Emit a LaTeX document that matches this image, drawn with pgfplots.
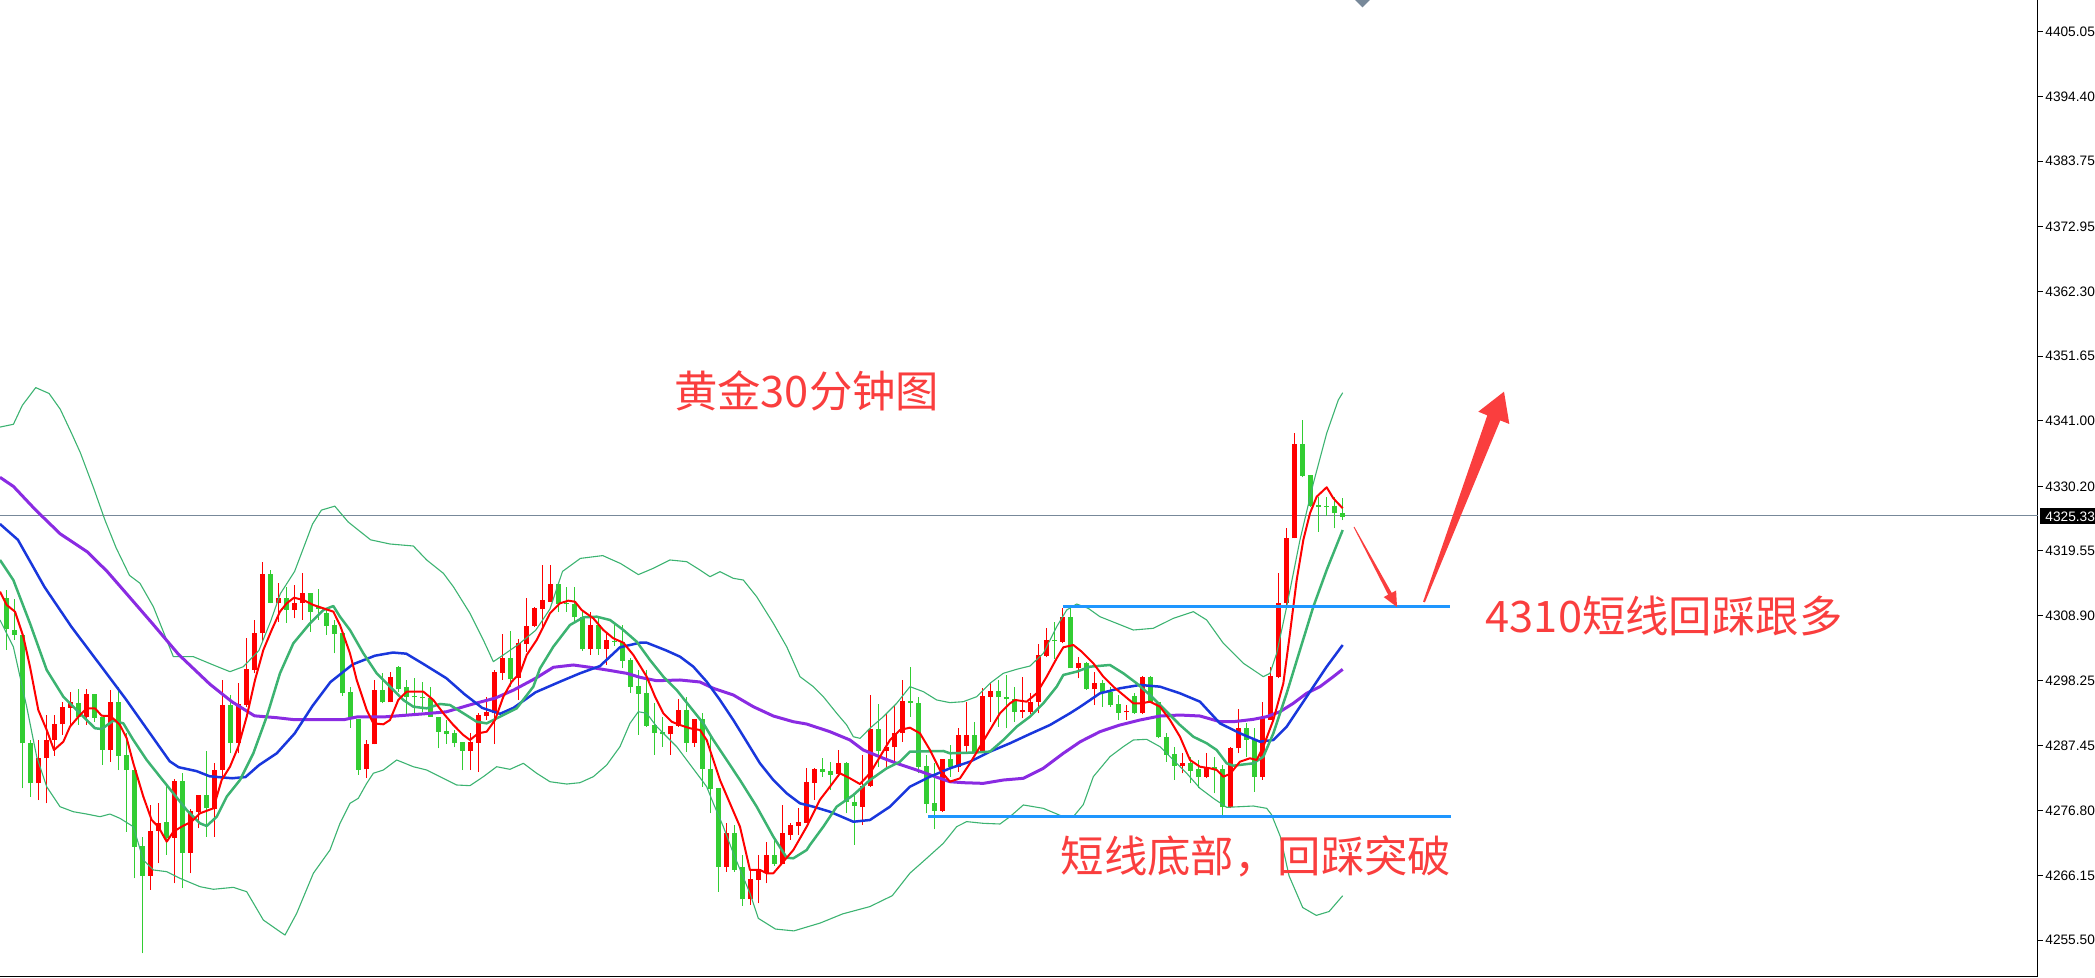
\documentclass[border=0pt]{standalone}
\usepackage{pgfplots}
\pgfplotsset{compat=1.18}
\usepackage{pgfplotstable}
\usepackage{fontspec}
\setmainfont{DejaVu Sans}
\newfontfamily\cjk{Noto Sans CJK SC}
\newfontfamily\tickfont{Liberation Sans}
\definecolor{cRed}{RGB}{255,0,0}
\definecolor{cGreen}{RGB}{50,205,50}
\definecolor{maSea}{RGB}{60,179,113}
\definecolor{maBlue}{RGB}{25,55,220}
\definecolor{maPurple}{RGB}{138,43,226}
\definecolor{lineBlue}{RGB}{30,150,255}
\definecolor{annRed}{RGB}{250,62,62}
\definecolor{slate}{RGB}{119,136,153}
\newcommand\ticklab{\tickfont\fontsize{6.85pt}{8pt}\selectfont}

\pgfplotstableread{
x o h l c
4 4281.30 4288.43 4278.55 4285.41
5 4285.41 4292.55 4278.00 4288.43
6 4288.43 4292.55 4285.80 4291.07
7 4291.01 4294.74 4289.26 4293.92
8 4293.76 4296.39 4290.63 4294.63
10 4292.27 4296.77 4290.90 4296.01
13 4286.79 4296.66 4284.86 4294.63
18 4266.04 4277.73 4263.74 4273.45
19 4273.45 4278.00 4268.13 4274.71
21 4272.35 4281.96 4264.83 4281.74
23 4269.88 4277.02 4266.48 4276.74
24 4276.63 4279.38 4273.89 4279.38
26 4277.02 4284.59 4272.52 4283.49
27 4283.49 4298.31 4281.85 4294.19
29 4287.99 4297.76 4286.24 4294.36
30 4294.19 4305.17 4293.92 4300.07
31 4299.96 4308.19 4299.41 4305.99
32 4305.99 4317.79 4304.62 4315.76
34 4310.93 4314.23 4307.91 4311.76
36 4309.84 4313.95 4308.46 4310.93
37 4310.93 4315.87 4308.19 4312.69
45 4283.60 4288.43 4282.23 4287.77
46 4287.72 4298.31 4287.72 4296.66
48 4294.63 4299.68 4294.63 4298.86
58 4286.68 4289.64 4283.49 4288.16
59 4287.99 4292.93 4283.22 4292.55
60 4292.44 4295.57 4291.72 4293.10
61 4292.82 4299.96 4287.77 4299.68
62 4299.52 4305.83 4298.31 4301.88
64 4298.58 4305.01 4295.02 4304.35
65 4304.24 4311.76 4302.98 4307.20
66 4307.20 4310.38 4307.09 4310.11
67 4309.94 4317.24 4307.10 4311.48
68 4311.21 4317.25 4311.21 4314.12
73 4303.36 4309.56 4302.43 4307.37
75 4303.36 4306.11 4300.78 4304.90
83 4289.37 4290.79 4285.97 4290.79
84 4290.74 4295.13 4290.63 4293.37
86 4288.00 4291.95 4287.34 4291.95
90 4267.58 4274.71 4266.76 4273.18
93 4262.20 4267.03 4261.27 4265.55
94 4265.38 4269.50 4261.54 4267.14
95 4266.48 4271.69 4264.83 4269.50
97 4268.02 4277.73 4268.02 4273.18
98 4272.79 4274.71 4271.97 4274.44
99 4274.33 4277.18 4272.79 4274.99
100 4274.82 4283.77 4274.82 4281.57
101 4281.41 4283.77 4278.56 4283.60
104 4282.84 4286.79 4282.40 4284.59
107 4277.46 4285.97 4274.44 4280.86
108 4280.86 4295.84 4280.75 4290.19
110 4286.68 4292.83 4283.77 4287.23
111 4287.23 4294.03 4284.59 4289.53
112 4289.53 4298.31 4288.16 4294.86
117 4276.80 4285.25 4276.64 4285.25
119 4284.04 4290.36 4283.22 4289.26
120 4287.45 4294.75 4286.13 4289.26
122 4286.24 4296.94 4286.24 4295.68
123 4295.57 4297.87 4291.45 4296.50
127 4293.10 4298.86 4292.00 4293.30
128 4293.10 4296.12 4292.72 4294.75
129 4294.75 4304.24 4292.83 4302.43
130 4302.26 4306.82 4302.05 4304.90
132 4304.62 4310.11 4304.35 4308.74
134 4300.23 4302.15 4298.59 4301.06
136 4296.77 4299.68 4294.19 4297.76
140 4292.99 4294.19 4291.73 4293.21
142 4292.82 4298.97 4292.71 4298.86
147 4284.21 4286.24 4282.94 4284.70
150 4282.40 4286.35 4282.12 4283.93
153 4277.35 4287.33 4277.18 4287.06
154 4287.06 4293.48 4286.24 4290.35
157 4282.40 4294.74 4281.85 4292.27
158 4291.73 4300.51 4291.73 4298.97
159 4298.86 4315.87 4298.59 4310.93
160 4310.93 4323.39 4310.66 4321.63
161 4321.63 4338.92 4321.63 4337.17
}\redc

\pgfplotstableread{
x o h l c
0 4311.76 4313.13 4303.25 4306.65
1 4306.54 4311.59 4304.90 4305.72
2 4305.72 4305.72 4280.47 4287.88
3 4287.88 4288.43 4279.10 4281.30
9 4294.47 4296.77 4290.90 4292.27
11 4296.01 4296.01 4291.45 4292.11
12 4292.27 4292.27 4284.32 4286.79
14 4294.63 4297.21 4283.49 4285.80
15 4285.96 4289.53 4273.34 4283.49
16 4283.49 4283.49 4265.66 4270.87
17 4270.98 4272.52 4253.31 4266.04
20 4274.88 4281.13 4269.50 4272.35
22 4281.74 4282.94 4264.01 4269.88
25 4279.38 4286.68 4272.52 4277.18
28 4294.19 4295.84 4286.24 4287.99
33 4315.76 4316.42 4310.93 4311.04
35 4311.76 4313.68 4307.75 4309.84
38 4312.69 4312.69 4306.27 4309.56
39 4310.38 4313.24 4308.19 4310.00
40 4309.40 4310.11 4305.72 4307.20
41 4307.37 4308.19 4302.70 4305.88
42 4305.99 4305.99 4295.68 4296.12
43 4296.39 4297.21 4290.46 4292.27
44 4291.83 4291.83 4282.67 4283.49
47 4296.66 4299.52 4294.47 4294.63
49 4300.51 4300.62 4296.39 4296.77
50 4297.21 4298.31 4292.71 4295.57
51 4295.73 4298.58 4292.82 4295.46
52 4295.57 4298.04 4293.10 4295.29
53 4295.29 4297.21 4292.27 4292.27
54 4292.27 4292.27 4287.06 4289.80
55 4289.91 4291.72 4287.77 4289.36
56 4289.53 4290.08 4287.22 4287.99
57 4288.16 4288.16 4283.49 4286.68
63 4301.88 4306.43 4297.21 4298.42
69 4314.12 4314.34 4309.56 4310.83
70 4310.94 4313.68 4309.56 4310.74
71 4310.83 4313.57 4307.92 4308.63
72 4308.63 4309.84 4303.14 4303.36
74 4307.37 4308.74 4302.43 4303.36
76 4304.79 4307.64 4303.91 4304.57
77 4304.62 4307.37 4300.23 4301.50
78 4301.61 4301.88 4296.23 4297.22
79 4297.33 4299.96 4289.26 4296.01
80 4296.12 4299.96 4290.63 4290.79
81 4290.90 4294.47 4285.97 4289.64
82 4289.75 4292.28 4287.34 4289.37
85 4293.37 4295.57 4286.51 4288.00
87 4291.84 4292.83 4280.75 4283.72
88 4283.72 4288.98 4276.36 4280.42
89 4280.53 4280.53 4263.46 4267.58
91 4273.07 4274.44 4266.76 4267.03
92 4267.47 4269.50 4261.16 4262.20
96 4269.50 4271.97 4267.69 4268.02
102 4283.60 4285.42 4282.40 4283.22
103 4283.39 4284.87 4280.20 4282.67
105 4284.59 4284.87 4276.36 4278.28
106 4278.28 4279.38 4271.15 4277.57
109 4290.19 4294.36 4284.04 4286.68
113 4294.80 4300.40 4292.28 4294.58
114 4294.58 4295.57 4282.95 4284.04
115 4284.15 4285.97 4276.36 4277.90
116 4278.01 4284.59 4273.73 4276.80
118 4285.25 4287.61 4282.40 4284.04
121 4289.26 4291.45 4286.24 4286.24
124 4296.50 4298.31 4290.63 4295.46
125 4295.46 4299.14 4290.36 4295.13
126 4295.13 4297.22 4291.45 4293.10
131 4304.90 4307.92 4301.72 4304.68
133 4308.74 4310.39 4300.23 4300.23
135 4301.06 4301.33 4296.67 4296.78
137 4297.76 4298.31 4293.92 4296.12
138 4296.39 4297.21 4293.92 4294.19
139 4294.36 4295.84 4291.73 4292.93
141 4295.68 4296.12 4292.71 4292.82
143 4298.86 4298.97 4294.47 4294.74
144 4294.74 4294.74 4288.71 4288.87
145 4288.87 4289.53 4284.86 4285.96
146 4286.13 4287.33 4281.85 4284.21
148 4284.70 4285.69 4281.30 4283.38
149 4283.60 4285.14 4280.47 4282.40
151 4283.93 4285.69 4279.65 4283.71
152 4283.60 4284.32 4275.54 4277.35
155 4290.35 4291.29 4285.69 4288.43
156 4288.43 4290.35 4279.93 4282.40
162 4337.17 4341.12 4331.68 4331.90
163 4332.06 4332.06 4326.85 4326.96
164 4327.07 4328.49 4322.73 4326.85
165 4327.01 4328.49 4325.31 4326.80
166 4326.96 4328.39 4323.28 4325.75
167 4325.75 4328.22 4324.65 4325.20
}\greenc

\pgfplotsset{
  wick/.style={draw=none, forget plot, error bars/.cd, y dir=plus, y explicit, error mark=none, error bar style={line width=0.5pt, draw=#1}},
  body/.style={draw=none, forget plot, error bars/.cd, y dir=plus, y explicit, error mark=none, error bar style={line width=2.4pt, draw=#1}},
}

\begin{document}
\begin{tikzpicture}
\useasboundingbox (0,0) rectangle (1047.5pt,489pt);
\begin{axis}[
  at={(0pt,0.5pt)}, anchor=south west,
  scale only axis, width=1019pt, height=488.5pt,
  xmin=-0.8375, xmax=253.9125, ymin=4249.41, ymax=4410.27,
  axis x line*=bottom, axis y line*=right,
  axis line style={-, line width=0.5pt, black},
  xtick=\empty,
  ytick={4255.50,4266.15,4276.80,4287.45,4298.25,4308.90,4319.55,4330.20,4341.00,4351.65,4362.30,4372.95,4383.75,4394.40,4405.05},
  yticklabels={4255.50,4266.15,4276.80,4287.45,4298.25,4308.90,4319.55,4330.20,4341.00,4351.65,4362.30,4372.95,4383.75,4394.40,4405.05},
  tick align=outside, major tick length=2.5pt,
  tick style={line width=0.5pt, black},
  yticklabel style={font=\ticklab, anchor=west, inner sep=0pt, xshift=1pt},
  line join=round,
]
% current price line
\addplot[slate, line width=0.5pt, forget plot] coordinates {(-1,4325.33) (260,4325.33)};

% candles
\addplot[wick=cRed] table[x=x, y=l, y error expr=\thisrow{h}-\thisrow{l}] {\redc};
\addplot[wick=cGreen] table[x=x, y=l, y error expr=\thisrow{h}-\thisrow{l}] {\greenc};
\addplot[body=cRed] table[x=x, y=o, y error expr=\thisrow{c}-\thisrow{o}] {\redc};
\addplot[body=cGreen] table[x=x, y=c, y error expr=\thisrow{o}-\thisrow{c}] {\greenc};

% Bollinger upper
\addplot[maSea, line width=0.55pt] coordinates {
(-0.84,4339.95)(0.84,4340.41)(1.95,4343.52)(3.63,4346.45)(5.3,4345.48)(6.7,4342.88)(8.09,4338.98)(9.21,4335.72)(10.88,4329.86)(12.28,4324.65)(13.67,4320.09)(15.35,4315.53)(16.66,4314.23)(18.33,4310.38)(20.83,4302.15)(23.33,4302.15)(25.83,4300.78)(27.91,4299.68)(29.58,4300.50)(31.53,4303.17)(33,4308)(34.2,4312.5)(35.99,4316.19)(38.23,4323.99)(39.34,4326.28)(41.01,4326.93)(42.69,4324.32)(45.48,4321.39)(47.91,4320.70)(50.83,4320.37)(52.5,4318.07)(54.58,4315.88)(55.83,4313.68)(57.91,4309.29)(59.58,4304.90)(60.83,4301.33)(62.08,4302.43)(64,4304.2)(66.13,4306.5)(67.91,4310)(69.48,4316.19)(71.71,4318.33)(74.5,4318.79)(76.73,4317.49)(78.96,4315.66)(80.83,4316.70)(82.9,4318.07)(85,4317.79)(86.66,4316.42)(87.91,4315.32)(89.16,4316.14)(90.83,4315.05)(92.08,4314.77)(93.75,4312.02)(95.83,4307.64)(97.5,4303.79)(99.16,4298.86)(100.83,4297.21)(102.08,4295.56)(103.75,4292.83)(105,4290.90)(105.83,4288.97)(106.66,4288.70)(107.91,4290.36)(109.58,4292.27)(111.25,4294.47)(112.91,4297.21)(114.58,4296.39)(116.25,4295.02)(117.91,4294.58)(119.58,4294.74)(121.25,4295.56)(122.91,4297.76)(124.58,4299.41)(126.25,4300.07)(127.91,4300.61)(129.58,4302.70)(131.25,4307.09)(132.5,4309.83)(133.75,4310.82)(135.2,4310.1)(136.66,4308.73)(140.83,4306.54)(143.33,4306.82)(145.83,4308.46)(148.33,4309.56)(150,4308.19)(152.08,4304.35)(154.58,4301.06)(157.08,4298.86)(157.91,4299.41)(158.75,4302.70)(160,4310.38)(161.66,4321.36)(163.33,4330.69)(165,4338.93)(166.45,4344.41)(167,4345.6)};
% Bollinger lower
\addplot[maSea, line width=0.55pt] coordinates {
(-0.84,4308.19)(0.83,4303.79)(2.5,4293.91)(3.75,4285.68)(5.0,4280.74)(6.66,4277.45)(8.33,4276.62)(10,4276.24)(11.66,4275.80)(12.91,4276.24)(14.16,4275.53)(15.83,4274.16)(17.08,4268.67)(18.33,4267.03)(20,4266.75)(21.66,4265.66)(24.16,4264.28)(25.83,4263.85)(28.33,4264.17)(30,4263.45)(32.08,4258.79)(34.16,4256.87)(34.79,4256.32)(36.25,4259.89)(38.33,4266.48)(40.41,4270.32)(41.66,4274.71)(42.91,4278.00)(43.95,4278.83)(45,4281.29)(45.83,4282.95)(47.08,4283.49)(48.75,4285.14)(50.83,4284.03)(52.5,4283.49)(54.58,4282.12)(56.25,4281.02)(57.91,4280.91)(59.58,4282.39)(61.25,4284.03)(62.91,4283.60)(64.58,4284.59)(66.25,4282.95)(67.91,4281.56)(70,4281.18)(71.66,4281.40)(73.33,4282.39)(75,4284.31)(76.66,4287.33)(77.91,4291.17)(78.95,4293.09)(80,4292.83)(81.25,4290.63)(82.5,4288.97)(83.75,4287.33)(85,4285.14)(86.25,4282.95)(87.5,4280.74)(88.33,4278.00)(89.58,4274.16)(90.83,4269.77)(92.91,4263.19)(93.95,4259.07)(96.1,4257.3)(98.4,4257.0)(101.7,4258.3)(104.5,4259.8)(107.9,4261.0)(110.7,4262.8)(112.9,4266.5)(115,4268.95)(117.08,4271.42)(118.75,4274.16)(120,4274.99)(122.08,4274.71)(124.16,4274.60)(125.41,4275.80)(127.08,4277.73)(129.58,4277.18)(132.08,4275.80)(133.33,4275.80)(134.58,4277.8)(135.83,4282.39)(137.91,4285.68)(139.58,4287.33)(140.83,4288.43)(142.5,4288.54)(144.16,4287.33)(145.83,4285.14)(147.5,4282.95)(149.16,4280.48)(150.83,4278.83)(152.5,4277.34)(155.83,4277.56)(157.5,4277.18)(158.1,4276.15)(159.2,4272.56)(160.3,4266.05)(162,4260.85)(163.7,4259.55)(165.3,4260.19)(167,4262.79)};

% purple MA
\addplot[maPurple, line width=1.5pt] coordinates {
(-0.84,4331.68)(0.84,4330.18)(3.63,4326.28)(6.7,4322.36)(10.05,4319.43)(12.55,4316.19)(15.35,4311.96)(18.14,4307.72)(21.49,4302.51)(25.39,4297.63)(28.18,4294.70)(30.97,4292.41)(33.76,4292.10)(35.99,4291.77)(42.13,4291.77)(43.8,4292.23)(47.15,4292.23)(52.17,4292.74)(54.96,4293.07)(58.31,4294.37)(61.1,4295.34)(63.34,4296.64)(66.13,4298.60)(68.33,4300.40)(70.83,4300.78)(72.91,4300.40)(75,4299.96)(77.5,4299.41)(79.16,4298.75)(81.25,4298.19)(84.16,4298.31)(86.66,4297.98)(88.33,4296.94)(90.83,4295.84)(93.33,4293.91)(95.83,4292.38)(98.33,4291.44)(100,4291.06)(102.9,4289.80)(105.41,4288.43)(107.08,4286.78)(109.58,4285.42)(111.25,4284.59)(113.75,4283.49)(115.83,4282.50)(117.91,4281.56)(119.58,4281.40)(122.08,4281.29)(124.58,4281.84)(127.08,4282.12)(129.58,4283.77)(132.08,4286.24)(134.2,4288.15)(136.66,4289.80)(139.16,4290.90)(141.66,4291.72)(144.16,4292.38)(146.66,4292.54)(149.16,4292.38)(151.66,4291.44)(153.33,4291.44)(155.83,4291.83)(157.5,4292.27)(159.16,4293.09)(160.83,4294.47)(162.5,4296.12)(164.16,4297.21)(165.83,4298.86)(167,4300.07)};

% blue MA
\addplot[maBlue, line width=1.25pt] coordinates {
(-0.84,4323.99)(1.4,4321.39)(4.74,4313.59)(8.09,4307.07)(11.44,4301.21)(14.79,4295.34)(17.58,4290.14)(20.37,4284.94)(21.49,4283.95)(23.72,4283.31)(25.39,4282.45)(28.18,4282.13)(29.85,4282.33)(31.53,4284.28)(33.76,4286.24)(35.99,4289.50)(38.23,4294.05)(40.46,4297.96)(43.25,4300.88)(46.04,4302.31)(48.27,4302.83)(49.95,4302.64)(52.17,4300.88)(54.96,4298.60)(57.2,4296.00)(59.43,4293.72)(61.66,4292.74)(63.34,4293.72)(66.13,4296.30)(69.16,4298.03)(71.66,4299.41)(74.16,4300.61)(76.66,4303.69)(79.16,4304.45)(80,4304.45)(82.5,4303.14)(84.16,4302.15)(85.83,4300.50)(87.5,4298.03)(89.16,4295.02)(90.83,4291.72)(92.5,4288.15)(94.16,4284.59)(95.83,4281.84)(97.5,4279.65)(99.16,4278.0)(100.83,4277.45)(102.91,4276.62)(105.83,4274.97)(107.91,4275.26)(110.41,4277.45)(112.91,4280.74)(115.41,4282.39)(117.91,4283.77)(120.41,4284.86)(122.91,4286.51)(125.41,4287.89)(127.91,4289.42)(130.41,4290.90)(132.91,4292.83)(134.2,4293.91)(136.66,4296.12)(139.16,4296.94)(141.66,4297.49)(144.16,4297.21)(146.66,4296.12)(149.16,4294.74)(151.66,4291.17)(154.16,4289.53)(156.66,4288.15)(158.33,4288.43)(160,4290.63)(161.66,4293.91)(163.33,4297.21)(165,4300.50)(167,4304.07)};

% sea green MA
\addplot[maSea, line width=1.25pt] coordinates {
(-0.84,4318.07)(0.83,4314.77)(2.91,4307.64)(5.0,4299.96)(7.08,4295.56)(9.16,4292.83)(11.04,4290.36)(11.87,4290.24)(13.33,4291.61)(14.58,4291.17)(15.83,4288.43)(17.5,4285.14)(19.16,4282.39)(20.83,4279.65)(22.5,4276.90)(24.16,4274.71)(25,4274.27)(26.25,4275.80)(27.5,4279.10)(29.16,4281.84)(30.83,4286.24)(32.5,4292.27)(34.16,4299.41)(35.83,4304.35)(37.91,4307.64)(39.58,4309.83)(40.83,4310.49)(41.66,4308.73)(42.91,4306.54)(44.58,4302.70)(46.25,4299.41)(47.91,4297.21)(49.58,4295.02)(50.83,4293.91)(52.5,4293.64)(54.16,4294.36)(55.41,4294.19)(57.08,4292.83)(58.75,4291.44)(60,4291.17)(61.66,4292.27)(63.75,4293.64)(65.83,4297.21)(66.66,4300.2)(68.33,4303.79)(70.41,4307.36)(72.08,4308.63)(73.75,4308.73)(75.41,4308.19)(77.08,4306.54)(78.75,4304.62)(80.41,4301.60)(82.08,4298.86)(83.75,4296.66)(85.41,4293.91)(87.08,4291.17)(88.33,4288.43)(90,4285.14)(91.66,4281.84)(93.75,4277.45)(95.83,4272.51)(97.5,4269.05)(98.33,4268.95)(100,4270.32)(100.4,4271.14)(102.08,4274.16)(103.75,4277.45)(105.83,4279.37)(107.91,4281.84)(110,4283.77)(111.66,4284.86)(112.91,4286.51)(117.08,4286.62)(117.91,4286.24)(120.41,4286.34)(122.91,4286.51)(124.58,4288.43)(126.25,4290.63)(127.91,4292.27)(129.58,4294.47)(131.25,4297.21)(132.08,4299.14)(133.75,4299.68)(135.41,4300.50)(137.91,4300.78)(139.58,4299.41)(141.25,4297.76)(142.91,4295.84)(145,4293.09)(146.66,4290.90)(148.33,4288.97)(150,4287.89)(151.25,4286.78)(152.5,4284.59)(153.33,4284.20)(155.83,4284.59)(157.08,4285.68)(158.33,4289.53)(160,4296.12)(161.66,4303.25)(163.33,4310.38)(165,4316.42)(167,4323.00)};

% red MA
\addplot[cRed, line width=1pt] coordinates {
(-0.84,4312.85)(0,4310.66)(1.04,4309.56)(2.08,4305.44)(2.91,4300.50)(3.95,4293.37)(5.0,4290.08)(5.91,4286.78)(7.08,4288.15)(7.91,4290.63)(9.16,4292.55)(10,4293.64)(11.04,4293.64)(11.87,4292.43)(12.91,4292.38)(13.54,4291.72)(14.16,4290.90)(15,4288.70)(15.83,4284.59)(17.08,4279.10)(18.12,4275.26)(18.95,4274.16)(20,4271.69)(20.83,4273.33)(21.87,4274.16)(23.12,4274.99)(24.16,4276.36)(25.83,4277.18)(26.87,4281.84)(27.91,4284.03)(28.95,4287.33)(30,4292.27)(31.04,4298.31)(32.08,4303.25)(33.12,4306.54)(34.16,4309.56)(35,4310.93)(35.91,4311.86)(37.08,4311.48)(38.33,4310.66)(39.58,4310.11)(40.83,4309.56)(41.66,4307.36)(42.91,4302.70)(43.75,4298.31)(45,4293.37)(45.83,4291.17)(47.08,4291.01)(47.91,4291.72)(48.95,4295.02)(50,4296.39)(52.08,4296.39)(53.33,4295.02)(54.58,4292.83)(55.83,4290.90)(57.08,4289.25)(57.91,4288.43)(58.95,4289.53)(60,4289.80)(61.04,4291.72)(62.08,4295.56)(63.12,4298.03)(64.16,4299.41)(65,4302.43)(66.25,4304.90)(67.91,4309.29)(69.16,4310.93)(70.2,4311.37)(71.04,4311.20)(71.87,4309.83)(73.33,4308.46)(74.58,4306.54)(75.83,4305.17)(77.08,4304.45)(78.33,4302.43)(80,4298.86)(81.04,4295.56)(82.08,4292.83)(83.12,4291.44)(84.16,4290.90)(85.41,4290.36)(86.66,4290.08)(87.5,4288.43)(88.33,4285.14)(89.16,4281.84)(90.41,4278.00)(91.66,4274.16)(92.91,4267.03)(94.16,4267.03)(95,4266.48)(95.83,4266.48)(97.08,4268.40)(98.33,4270.32)(100,4274.16)(101.66,4278.6)(102.91,4280.74)(104.16,4282.95)(105.41,4282.12)(106.66,4281.18)(107.91,4282.95)(109.16,4285.68)(110.41,4288.43)(111.66,4290.08)(112.91,4290.46)(114.16,4289.53)(115.41,4286.78)(116.66,4283.49)(117.91,4281.56)(119.16,4282.12)(120.41,4284.59)(121.66,4287.33)(122.91,4290.08)(124.16,4292.83)(125.41,4294.47)(126.04,4295.02)(127.5,4294.74)(128.75,4296.12)(130,4298.86)(131.25,4301.88)(132.08,4303.69)(133.33,4304.07)(134.37,4302.98)(135.83,4301.06)(137.08,4298.86)(138.33,4297.21)(139.58,4295.84)(140.83,4294.47)(141.87,4294.47)(142.91,4294.74)(144.16,4293.91)(145.41,4291.72)(146.66,4288.97)(147.91,4285.14)(149.16,4284.03)(150.41,4283.77)(151.25,4283.49)(152.08,4282.39)(152.91,4282.83)(154.16,4284.86)(155.41,4285.42)(156.25,4285.14)(157.08,4287.33)(158.33,4291.72)(159.58,4297.76)(160.41,4306.00)(161.25,4314.77)(162.08,4321.36)(162.91,4325.75)(163.75,4328.49)(165,4330.04)(165.83,4328.22)(167,4326.58)};

% horizontal support / resistance lines
\addplot[lineBlue, line width=1.75pt] coordinates {(132.04,4310.38) (180.4,4310.38)};
\addplot[lineBlue, line width=1.75pt] coordinates {(115.16,4275.80) (180.54,4275.80)};
\end{axis}

\begin{scope}[yshift=489pt, x=0.5pt, y=-0.5pt]
  % marker at top
  \fill[slate] (1355,0) -- (1370,0) -- (1362.5,7.5) -- cycle;
  % current price box
  \node[fill=black, text=white, anchor=west, inner xsep=2.5pt, inner ysep=0pt, minimum height=8pt, font=\ticklab] at (2040,516.3) {4325.33};
  % arrows
  \fill[annRed] (1354.4,526.8) -- (1391.7,592.9) -- (1396.1,590.5) -- (1397,607) -- (1383.7,597.1) -- (1388.1,594.7) -- (1353.6,527.2) -- cycle;
  \fill[annRed] (1423.1,601.6) -- (1487.3,415.4) -- (1478.3,411.7) -- (1504,391.7) -- (1509.3,424) -- (1500.3,420.4) -- (1424.9,602.4) -- cycle;
  % texts
  \node[anchor=base west, inner sep=0pt, text=annRed, font=\cjk\fontsize{21.7pt}{26pt}\selectfont] at (673.7,408) {黄金30分钟图};
  \node[anchor=base west, inner sep=0pt, text=annRed, font=\cjk\fontsize{21.7pt}{26pt}\selectfont] at (1485.4,633) {4310短线回踩跟多};
  \node[anchor=base west, inner sep=0pt, text=annRed, font=\cjk\fontsize{21.7pt}{26pt}\selectfont] at (1060.3,873) {短线底部，回踩突破};
\end{scope}
\end{tikzpicture}
\end{document}
